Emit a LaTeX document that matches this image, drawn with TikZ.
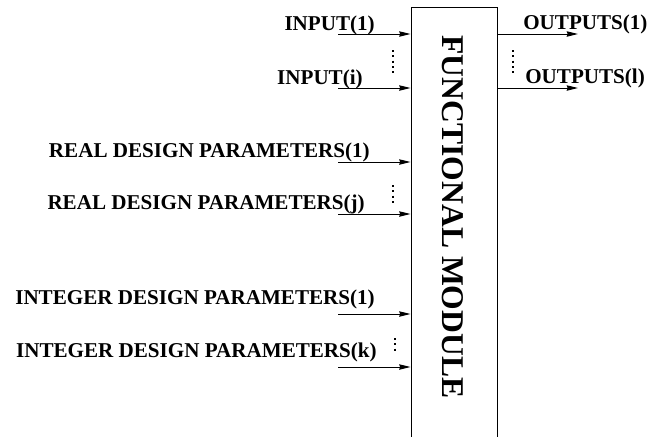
\documentclass[tikz,border=0pt]{standalone}
\usepackage{fontspec}
\setmainfont{Liberation Serif}
\usepackage{tikz}
\usetikzlibrary{arrows.meta,positioning,calc}

\begin{document}
\begin{tikzpicture}[
    x=0.025cm, y=-0.025cm,
    every node/.style={font=\fontsize{15}{18}\selectfont\bfseries, inner sep=0pt},
    modbox/.style={rectangle, draw=black, line width=0.7pt, minimum width=2.15cm, minimum height=11.3cm},
    lbl/.style={anchor=base east},
    olbl/.style={anchor=base west},
    arr/.style={-{Stealth[length=8pt, width=3.8pt, inset=0.6pt]}, line width=0.7pt, draw=black},
    vdots/.style={line width=1.7pt, dash pattern=on 1.3pt off 2.5pt}
]
\useasboundingbox (0,0) rectangle (649,436);

% the module
\node[modbox] (fm) at (454,234) {};
\node[rotate=-90, font=\fontsize{22.5}{26}\selectfont\bfseries] (fmtext) at (453,217) {FUNCTIONAL MODULE};

% inputs
\coordinate (in1) at (338,34);
\coordinate (ini) at (338,88);
\node[lbl] (in1lbl) at (375,30) {INPUT(1)};
\node[lbl] (inilbl) at (363,84) {INPUT(i)};
\draw[arr] (in1) -- (in1 -| fm.west);
\draw[arr] (ini) -- (ini -| fm.west);
\draw[vdots] (393,50) -- (393,74);

% real design parameters
\coordinate (re1) at (338,162);
\coordinate (rej) at (338,214);
\node[lbl] (re1lbl) at (370,157) {REAL DESIGN PARAMETERS(1)};
\node[lbl] (rejlbl) at (365,209) {REAL DESIGN PARAMETERS(j)};
\draw[arr] (re1) -- (re1 -| fm.west);
\draw[arr] (rej) -- (rej -| fm.west);
\draw[vdots] (393,185) -- (393,203);

% integer design parameters
\coordinate (it1) at (338,314);
\coordinate (itk) at (338,367);
\node[lbl] (it1lbl) at (375,304) {INTEGER DESIGN PARAMETERS(1)};
\node[lbl] (itklbl) at (377,357) {INTEGER DESIGN PARAMETERS(k)};
\draw[arr] (it1) -- (it1 -| fm.west);
\draw[arr] (itk) -- (itk -| fm.west);
\draw[vdots] (395,338) -- (395,354);

% outputs
\coordinate (out1) at (578,34);
\coordinate (outl) at (578,88);
\node[olbl] (out1lbl) at (523,29) {OUTPUTS(1)};
\node[olbl] (outllbl) at (525,83) {OUTPUTS(l)};
\draw[arr] (out1 -| fm.east) -- (out1);
\draw[arr] (outl -| fm.east) -- (outl);
\draw[vdots] (513,50) -- (513,73);

\end{tikzpicture}
\end{document}
